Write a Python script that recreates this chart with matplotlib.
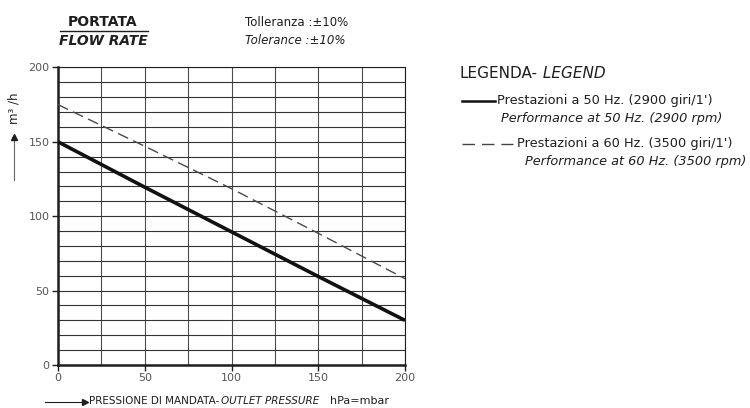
import matplotlib
matplotlib.use("Agg")
import matplotlib.pyplot as plt
from matplotlib.lines import Line2D
import numpy as np

# dati
pressione = [0, 50, 100, 150, 200]            # hPa = mbar
portata_50hz = [150, 119.5, 89.5, 59.5, 30]   # m3/h, 2900 giri/1'
portata_60hz = [175, 147, 118.5, 88.5, 58]    # m3/h, 3500 giri/1'

x_ticks = [0, 50, 100, 150, 200]
y_ticks = [0, 50, 100, 150, 200]

W, H = 750, 408
plt.rcParams["font.family"] = ["DejaVu Sans"]
ink = "#1e1e1e"


def px(x, y):
    # pixel -> coordinate figura
    return x / W, 1 - y / H


fig = plt.figure(figsize=(W / 100, H / 100), dpi=100)
ax = fig.add_axes([58 / W, 1 - 365 / H, 347 / W, 297.6 / H])

ax.plot(pressione, portata_50hz, color="#111111", lw=2.6, solid_capstyle="butt", zorder=3)
ax.plot(pressione, portata_60hz, color="#4a4a4a", lw=1.0, dashes=(8, 4), zorder=3)

ax.set_xlim(0, 200)
ax.set_ylim(0, 200)
ax.set_xticks(x_ticks)
ax.set_yticks(y_ticks)
ax.set_xticks(np.arange(0, 201, 25), minor=True)
ax.set_yticks(np.arange(0, 201, 10), minor=True)
ax.grid(which="both", axis="y", color="#333333", lw=0.8)
ax.grid(which="both", axis="x", color="#4d4d4d", lw=0.8)
ax.tick_params(which="major", length=4, width=1, color=ink, labelsize=8, labelcolor="#555555", pad=2)
ax.tick_params(which="minor", length=0)
for s in ["left", "bottom"]:
    ax.spines[s].set_linewidth(1.8)
for s in ["top", "right"]:
    ax.spines[s].set_linewidth(0.8)
for s in ax.spines.values():
    s.set_color(ink)

# titolo in alto
fig.text(*px(103, 22), "PORTATA", ha="center", va="center", fontsize=10, fontweight="bold", color=ink)
fig.add_artist(Line2D([60 / W, 148 / W], [1 - 30.5 / H] * 2, color=ink, lw=1.0))
fig.text(*px(103, 41), "FLOW RATE", ha="center", va="center", fontsize=10, fontweight="bold",
         style="italic", color=ink)
fig.text(*px(245, 22), "Tolleranza :\u00b110%", ha="left", va="center", fontsize=8.5, color=ink)
fig.text(*px(245, 41), "Tolerance :\u00b110%", ha="left", va="center", fontsize=8.5, style="italic", color=ink)

# asse y
fig.text(*px(14, 108), "m\u00b3 /h", rotation=90, ha="center", va="center", fontsize=8.5, color=ink)
fig.add_artist(Line2D([14 / W, 14 / W], [1 - 180 / H, 1 - 140 / H], color="#666666", lw=0.8))
fig.add_artist(Line2D([14 / W], [1 - 137 / H], marker="^", markersize=5, color=ink, lw=0))

# asse x
fig.add_artist(Line2D([45 / W, 84 / W], [1 - 401.5 / H] * 2, color=ink, lw=0.8))
fig.add_artist(Line2D([85 / W], [1 - 401.5 / H], marker=">", markersize=5, color=ink, lw=0))
t1 = fig.text(*px(89, 401.5), "PRESSIONE DI MANDATA-", ha="left", va="center", fontsize=7.5, color=ink)
ax.annotate("OUTLET PRESSURE", xy=(1, 0.5), xycoords=t1, xytext=(1, 0), textcoords="offset points",
            ha="left", va="center", fontsize=7.5, style="italic", color=ink, annotation_clip=False)
fig.text(*px(330, 401.5), "hPa=mbar", ha="left", va="center", fontsize=8, color=ink)

# legenda
l1 = fig.text(*px(460, 74), "LEGENDA-", ha="left", va="center", fontsize=11, color=ink)
ax.annotate(" LEGEND", xy=(1, 0.5), xycoords=l1, ha="left", va="center", fontsize=11,
            style="italic", color=ink, annotation_clip=False)

fig.add_artist(Line2D([462 / W, 495 / W], [1 - 100.5 / H] * 2, color="#111111", lw=1.8))
fig.text(*px(497, 100.5), "Prestazioni a 50 Hz. (2900 giri/1')", ha="left", va="center", fontsize=9.3, color=ink)
fig.text(*px(501, 118.5), "Performance at 50 Hz. (2900 rpm)", ha="left", va="center", fontsize=9.3,
         style="italic", color=ink)

fig.add_artist(Line2D([462 / W, 513 / W], [1 - 143.5 / H] * 2, color="#444444", lw=1.0, dashes=(9, 5)))
fig.text(*px(517, 143.5), "Prestazioni a 60 Hz. (3500 giri/1')", ha="left", va="center", fontsize=9.3, color=ink)
fig.text(*px(525, 161.5), "Performance at 60 Hz. (3500 rpm)", ha="left", va="center", fontsize=9.3,
         style="italic", color=ink)

fig.savefig("out.png", dpi=100, facecolor="white")
